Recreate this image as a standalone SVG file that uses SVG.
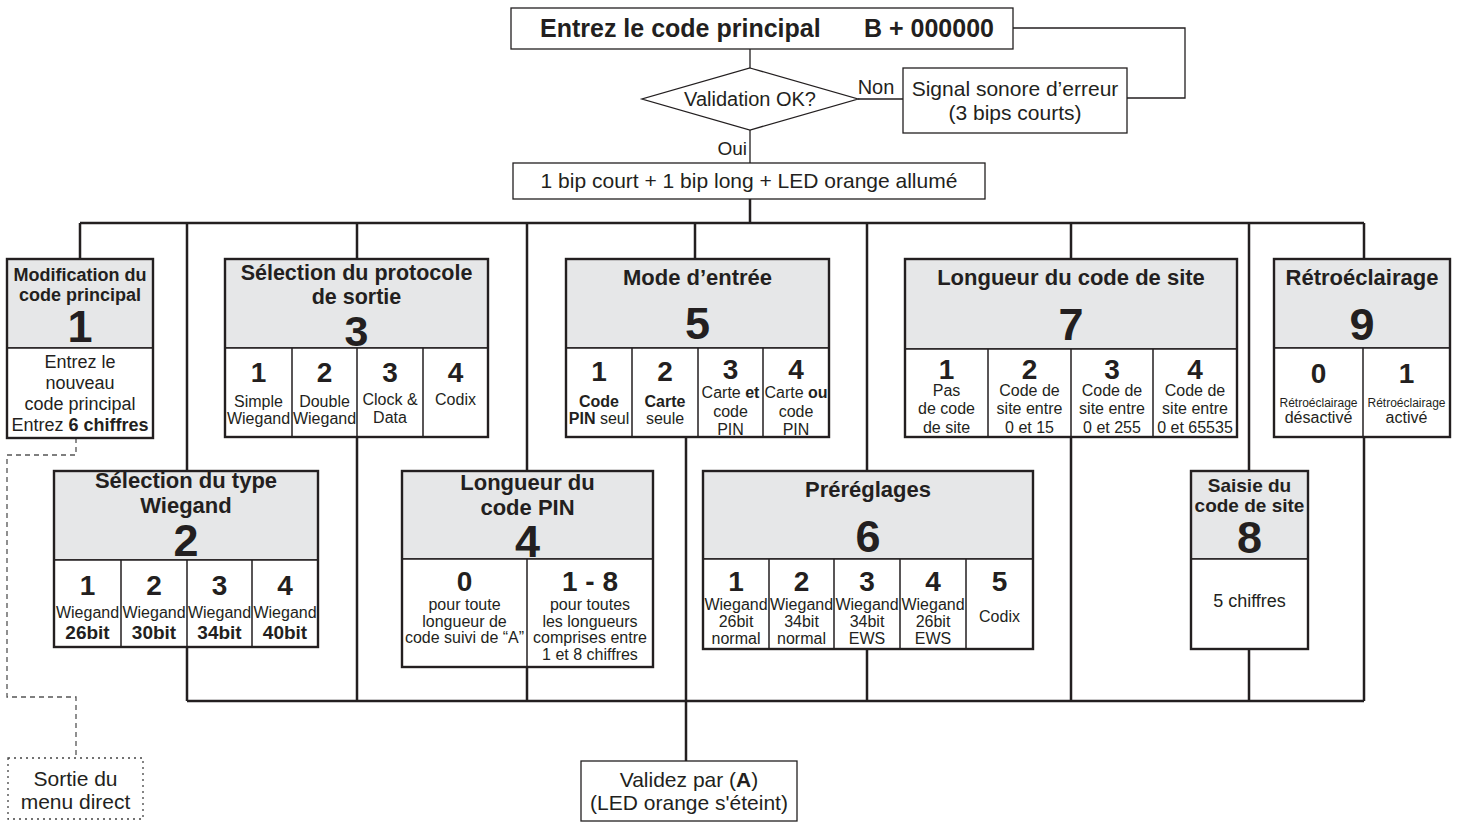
<svg xmlns="http://www.w3.org/2000/svg" width="1459" height="823" viewBox="0 0 1459 823">
<style>
text{font-family:"Liberation Sans",Arial,sans-serif;fill:#231f20;text-anchor:middle}
.b{font-weight:bold}
.t{font-size:21px}
.h{font-size:22px;font-weight:bold}
.big{font-size:45px;font-weight:bold}
.d{font-size:28px;font-weight:bold}
.s{font-size:16px}
.thin{fill:#fff;stroke:#231f20;stroke-width:1.3}
.hd{fill:#e6e7e8;stroke:#231f20;stroke-width:1.5}
.bd{fill:#fff;stroke:#231f20;stroke-width:1.5}
.fr{fill:none;stroke:#231f20;stroke-width:2.4}
.dv{stroke:#231f20;stroke-width:1.5}
.c{fill:none;stroke:#231f20;stroke-width:2.5}
.c1{fill:none;stroke:#231f20;stroke-width:1.3}
</style>
<rect width="1459" height="823" fill="#fff"/>
<g id="connectors">
<path class="c1" d="M750,49V68M858,99H903M1013,28H1185V98H1127M750,130V163"/>
<path class="c" d="M750,199V223M80,223H1364M80,223V259M187,223V471M357,223V259M527,223V471M695,223V259M867,223V471M1071,223V259M1249,223V471M1364,223V259"/>
<path class="c" d="M187,701H1364M187,647V701M357,437V701M527,667V701M686,437V761M867,649V701M1071,437V701M1249,649V701M1364,437V701"/>
<path fill="none" stroke="#555" stroke-width="1.3" stroke-dasharray="5,4" d="M76,438V455H7V697H76V758"/>
</g>
<g id="start">
<rect class="thin" x="511" y="8" width="502" height="41"/>
<text class="b" x="540" y="37" style="font-size:25px;text-anchor:start">Entrez le code principal</text>
<text class="b" x="864" y="37" style="font-size:25px;text-anchor:start">B + 000000</text>
</g>
<g id="validation">
<polygon class="thin" points="750,68 858,99 750,130 642,99"/>
<text class="t" x="750" y="106" style="font-size:20px">Validation OK?</text>
<text x="876" y="94" style="font-size:20px">Non</text>
<text x="747" y="155" style="font-size:19px;text-anchor:end">Oui</text>
</g>
<g id="error">
<rect class="thin" x="903" y="68" width="224" height="65"/>
<text class="t" x="1015" y="96">Signal sonore d’erreur</text>
<text class="t" x="1015" y="120">(3 bips courts)</text>
</g>
<g id="ok">
<rect class="thin" x="513" y="163" width="472" height="36"/>
<text class="t" x="749" y="188">1 bip court + 1 bip long + LED orange allumé</text>
</g>
<g id="n1">
<rect class="hd" x="7" y="259" width="146" height="89"/>
<rect class="bd" x="7" y="348" width="146" height="90"/>
<rect class="fr" x="7" y="259" width="146" height="179"/>
<text class="b" x="80" y="281" style="font-size:18px">Modification du</text>
<text class="b" x="80" y="301" style="font-size:18px">code principal</text>
<text class="big" x="80" y="342">1</text>
<text x="80" y="368" style="font-size:18px">Entrez le</text>
<text x="80" y="389" style="font-size:18px">nouveau</text>
<text x="80" y="410" style="font-size:18px">code principal</text>
<text x="80" y="431" style="font-size:18px">Entrez <tspan class="b">6 chiffres</tspan></text>
</g>
<g id="n3">
<rect class="hd" x="225" y="259" width="263" height="89"/>
<rect class="bd" x="225" y="348" width="263" height="89"/>
<path class="dv" d="M292,348V437M357,348V437M423,348V437"/>
<rect class="fr" x="225" y="259" width="263" height="178"/>
<text class="b" x="356.5" y="280" style="font-size:21.5px">Sélection du protocole</text>
<text class="b" x="356.5" y="304" style="font-size:21.5px">de sortie</text>
<text class="b" x="356.5" y="346" style="font-size:43px">3</text>
<text class="d" x="258.5" y="382">1</text><text class="d" x="324.5" y="382">2</text><text class="d" x="390" y="382">3</text><text class="d" x="455.5" y="382">4</text>
<text class="s" x="258.5" y="407">Simple</text><text class="s" x="258.5" y="424">Wiegand</text>
<text class="s" x="324.5" y="407">Double</text><text class="s" x="324.5" y="424">Wiegand</text>
<text class="s" x="390" y="405">Clock &amp;</text><text class="s" x="390" y="423">Data</text>
<text class="s" x="455.5" y="405">Codix</text>
</g>
<g id="n5">
<rect class="hd" x="566" y="259" width="263" height="89"/>
<rect class="bd" x="566" y="348" width="263" height="89"/>
<path class="dv" d="M632,348V437M698,348V437M763,348V437"/>
<rect class="fr" x="566" y="259" width="263" height="178"/>
<text class="h" x="697.5" y="285">Mode d’entrée</text>
<text class="big" x="697.5" y="339">5</text>
<text class="d" x="599" y="381">1</text><text class="d" x="665" y="381">2</text><text class="d" x="730.5" y="379">3</text><text class="d" x="796" y="379">4</text>
<text class="s b" x="599" y="407">Code</text><text class="s" x="599" y="424"><tspan class="b">PIN</tspan> seul</text>
<text class="s b" x="665" y="407">Carte</text><text class="s" x="665" y="424">seule</text>
<text class="s" x="730.5" y="398">Carte <tspan class="b">et</tspan></text><text class="s" x="730.5" y="417">code</text><text class="s" x="730.5" y="435">PIN</text>
<text class="s" x="796" y="398">Carte <tspan class="b">ou</tspan></text><text class="s" x="796" y="417">code</text><text class="s" x="796" y="435">PIN</text>
</g>
<g id="n7">
<rect class="hd" x="905" y="259" width="332" height="90"/>
<rect class="bd" x="905" y="349" width="332" height="88"/>
<path class="dv" d="M988,349V437M1071,349V437M1153,349V437"/>
<rect class="fr" x="905" y="259" width="332" height="178"/>
<text class="h" x="1071" y="285">Longueur du code de site</text>
<text class="big" x="1071" y="340">7</text>
<text class="d" x="946.5" y="379">1</text><text class="d" x="1029.5" y="379">2</text><text class="d" x="1112" y="379">3</text><text class="d" x="1195" y="379">4</text>
<text class="s" x="946.5" y="396">Pas</text><text class="s" x="946.5" y="414">de code</text><text class="s" x="946.5" y="433">de site</text>
<text class="s" x="1029.5" y="396">Code de</text><text class="s" x="1029.5" y="414">site entre</text><text class="s" x="1029.5" y="433">0 et 15</text>
<text class="s" x="1112" y="396">Code de</text><text class="s" x="1112" y="414">site entre</text><text class="s" x="1112" y="433">0 et 255</text>
<text class="s" x="1195" y="396">Code de</text><text class="s" x="1195" y="414">site entre</text><text class="s" x="1195" y="433">0 et 65535</text>
</g>
<g id="n9">
<rect class="hd" x="1274" y="259" width="176" height="89"/>
<rect class="bd" x="1274" y="348" width="176" height="89"/>
<path class="dv" d="M1363,348V437"/>
<rect class="fr" x="1274" y="259" width="176" height="178"/>
<text class="h" x="1362" y="285">Rétroéclairage</text>
<text class="big" x="1362" y="340">9</text>
<text class="d" x="1318.5" y="383">0</text><text class="d" x="1406.5" y="383">1</text>
<text x="1318.5" y="407" style="font-size:12px">Rétroéclairage</text><text class="s" x="1318.5" y="423">désactivé</text>
<text x="1406.5" y="407" style="font-size:12px">Rétroéclairage</text><text class="s" x="1406.5" y="423">activé</text>
</g>
<g id="n2">
<rect class="hd" x="54" y="471" width="264" height="89"/>
<rect class="bd" x="54" y="560" width="264" height="87"/>
<path class="dv" d="M121,560V647M187,560V647M252,560V647"/>
<rect class="fr" x="54" y="471" width="264" height="176"/>
<text class="h" x="186" y="488">Sélection du type</text>
<text class="h" x="186" y="513">Wiegand</text>
<text class="big" x="186" y="556">2</text>
<text class="d" x="87.5" y="595">1</text><text class="d" x="154" y="595">2</text><text class="d" x="219.5" y="595">3</text><text class="d" x="285" y="595">4</text>
<text class="s" x="87.5" y="618">Wiegand</text><text class="b" x="87.5" y="639" style="font-size:19px">26bit</text>
<text class="s" x="154" y="618">Wiegand</text><text class="b" x="154" y="639" style="font-size:19px">30bit</text>
<text class="s" x="219.5" y="618">Wiegand</text><text class="b" x="219.5" y="639" style="font-size:19px">34bit</text>
<text class="s" x="285" y="618">Wiegand</text><text class="b" x="285" y="639" style="font-size:19px">40bit</text>
</g>
<g id="n4">
<rect class="hd" x="402" y="471" width="251" height="88"/>
<rect class="bd" x="402" y="559" width="251" height="108"/>
<path class="dv" d="M527,559V667"/>
<rect class="fr" x="402" y="471" width="251" height="196"/>
<text class="h" x="527.5" y="490">Longueur du</text>
<text class="h" x="527.5" y="515">code PIN</text>
<text class="big" x="527.5" y="557">4</text>
<text class="d" x="464.5" y="591">0</text><text class="d" x="590" y="591">1 - 8</text>
<text class="s" x="464.5" y="610">pour toute</text><text class="s" x="464.5" y="627">longueur de</text><text class="s" x="464.5" y="643">code suivi de “A”</text>
<text class="s" x="590" y="610">pour toutes</text><text class="s" x="590" y="627">les longueurs</text><text class="s" x="590" y="643">comprises entre</text><text class="s" x="590" y="660">1 et 8 chiffres</text>
</g>
<g id="n6">
<rect class="hd" x="703" y="471" width="330" height="88"/>
<rect class="bd" x="703" y="559" width="330" height="90"/>
<path class="dv" d="M769,559V649M834,559V649M900,559V649M966,559V649"/>
<rect class="fr" x="703" y="471" width="330" height="178"/>
<text class="h" x="868" y="497">Préréglages</text>
<text class="big" x="868" y="552">6</text>
<text class="d" x="736" y="591">1</text><text class="d" x="801.5" y="591">2</text><text class="d" x="867" y="591">3</text><text class="d" x="933" y="591">4</text><text class="d" x="999.5" y="591">5</text>
<text class="s" x="736" y="610">Wiegand</text><text class="s" x="736" y="627">26bit</text><text class="s" x="736" y="644">normal</text>
<text class="s" x="801.5" y="610">Wiegand</text><text class="s" x="801.5" y="627">34bit</text><text class="s" x="801.5" y="644">normal</text>
<text class="s" x="867" y="610">Wiegand</text><text class="s" x="867" y="627">34bit</text><text class="s" x="867" y="644">EWS</text>
<text class="s" x="933" y="610">Wiegand</text><text class="s" x="933" y="627">26bit</text><text class="s" x="933" y="644">EWS</text>
<text class="s" x="999.5" y="622">Codix</text>
</g>
<g id="n8">
<rect class="hd" x="1191" y="471" width="117" height="88"/>
<rect class="bd" x="1191" y="559" width="117" height="90"/>
<rect class="fr" x="1191" y="471" width="117" height="178"/>
<text class="b" x="1249.5" y="492" style="font-size:19px">Saisie du</text>
<text class="b" x="1249.5" y="512" style="font-size:19px">code de site</text>
<text class="big" x="1249.5" y="553">8</text>
<text x="1249.5" y="607" style="font-size:18px">5 chiffres</text>
</g>
<g id="end">
<rect class="thin" x="581" y="761" width="216" height="60"/>
<text class="t" x="689" y="787">Validez par (<tspan class="b">A</tspan>)</text>
<text class="t" x="689" y="810">(LED orange s'éteint)</text>
</g>
<g id="exit">
<rect x="8" y="758" width="135" height="61" fill="#fff" stroke="#444" stroke-width="1.3" stroke-dasharray="2,4"/>
<text class="t" x="75.5" y="786">Sortie du</text>
<text class="t" x="75.5" y="809">menu direct</text>
</g>
</svg>
